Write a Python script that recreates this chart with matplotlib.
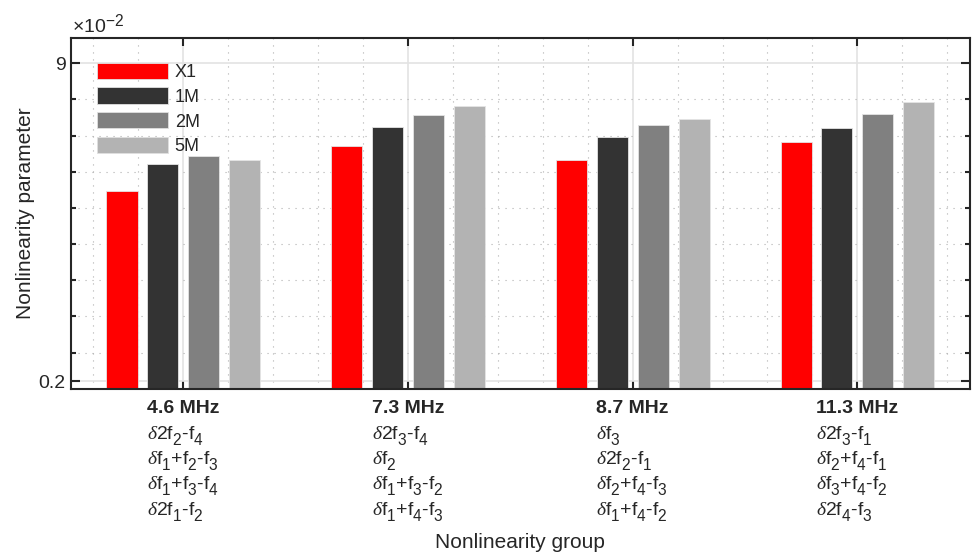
import matplotlib
matplotlib.use("Agg")
import matplotlib.pyplot as plt
import numpy as np
from matplotlib.transforms import blended_transform_factory, ScaledTranslation
from matplotlib.ticker import FixedLocator, MultipleLocator
from matplotlib.patches import Patch

plt.rcParams["font.family"] = ["Liberation Sans", "DejaVu Sans"]
plt.rcParams["mathtext.fontset"] = "custom"
plt.rcParams["mathtext.rm"] = "Liberation Sans"
plt.rcParams["mathtext.it"] = "Liberation Serif:italic"
plt.rcParams["mathtext.bf"] = "Liberation Sans:bold"

# larger, lower-set subscripts for the mixing-product labels
try:
    import matplotlib._mathtext as _mt
    _mt.SHRINK_FACTOR = 0.8
    _mt.FontConstantsBase.sub1 = 0.75
except Exception:
    pass

# ---- data (values in units of 1e-2) ----
groups = ["4.6 MHz", "7.3 MHz", "8.7 MHz", "11.3 MHz"]
components = [
    [r"$\delta$2f$_2$-f$_4$", r"$\delta$f$_1$+f$_2$-f$_3$",
     r"$\delta$f$_1$+f$_3$-f$_4$", r"$\delta$2f$_1$-f$_2$"],
    [r"$\delta$2f$_3$-f$_4$", r"$\delta$f$_2$",
     r"$\delta$f$_1$+f$_3$-f$_2$", r"$\delta$f$_1$+f$_4$-f$_3$"],
    [r"$\delta$f$_3$", r"$\delta$2f$_2$-f$_1$",
     r"$\delta$f$_2$+f$_4$-f$_3$", r"$\delta$f$_1$+f$_4$-f$_2$"],
    [r"$\delta$2f$_3$-f$_1$", r"$\delta$f$_2$+f$_4$-f$_1$",
     r"$\delta$f$_3$+f$_4$-f$_2$", r"$\delta$2f$_4$-f$_3$"],
]
series = ["X1", "1M", "2M", "5M"]
x1_vals = [5.47, 6.71, 6.33, 6.82]
m1_vals = [6.22, 7.24, 6.95, 7.22]
m2_vals = [6.44, 7.57, 7.29, 7.60]
m5_vals = [6.33, 7.81, 7.47, 7.92]
y_ticks = [0.2, 9]
y_tick_labels = ["0.2", "9"]

colors = ["#ff0000", "#333333", "#808080", "#b3b3b3"]
text_color = "#262626"

W, H = 974, 554
fig = plt.figure(figsize=(W / 100, H / 100), dpi=100)
ax_l, ax_r, ax_t, ax_b = 71, 969.7, 38, 388.7
ax = fig.add_axes([ax_l / W, 1 - ax_b / H, (ax_r - ax_l) / W, (ax_b - ax_t) / H])

x = np.arange(1, len(groups) + 1)
step, bar_w = 0.182, 0.138
offsets = (np.arange(len(series)) - (len(series) - 1) / 2) * step
all_vals = [x1_vals, m1_vals, m2_vals, m5_vals]
for vals, off, col in zip(all_vals, offsets, colors):
    ax.bar(x + off, vals, width=bar_w, color=col, edgecolor="#e4e4e4",
           linewidth=0.6, zorder=2)

ax.set_xlim(0.5, 4.5)
ax.set_ylim(0, 9.7)
ax.set_axisbelow(True)

# ticks
ax.xaxis.set_major_locator(FixedLocator(x))
ax.xaxis.set_minor_locator(MultipleLocator(0.2))
ax.yaxis.set_major_locator(FixedLocator(y_ticks))
ax.yaxis.set_minor_locator(FixedLocator(np.arange(1, 9)))
ax.set_yticklabels(y_tick_labels)
ax.tick_params(axis="both", which="both", direction="in", top=True, right=True,
               color=text_color, width=1.5)
ax.tick_params(axis="x", which="major", length=6, labelbottom=False)
ax.tick_params(axis="x", which="minor", length=0)
ax.tick_params(axis="y", which="major", length=6.5, labelsize=14,
               labelcolor=text_color, pad=4)
ax.tick_params(axis="y", which="minor", length=3.5)
for sp in ax.spines.values():
    sp.set_linewidth(1.5)
    sp.set_color(text_color)

# grids
ax.grid(which="major", color="#e3e3e3", linewidth=1.2, linestyle="-")
ax.grid(which="minor", color="#b0b0b0", linewidth=0.8, linestyle=(0, (1, 5.3)))

# legend
handles = [Patch(facecolor=c, edgecolor="#e0e0e0", linewidth=0.6) for c in colors]
ax.legend(handles, series, loc="upper left",
          bbox_to_anchor=(97.3 / W, 1 - 62.6 / H), bbox_transform=fig.transFigure,
          frameon=False, borderpad=0, borderaxespad=0, handlelength=3.93,
          handleheight=0.99, handletextpad=0.36, labelspacing=0.37,
          fontsize=13, labelcolor=text_color)

# exponent marker
fig.text(72 / W, 1 - 32 / H, r"$\times10^{-2}$", fontsize=14, color=text_color,
         ha="left", va="baseline")

# axis labels
fig.text(26 / W, 1 - 213 / H, "Nonlinearity parameter", rotation=90,
         fontsize=15, color=text_color, ha="center", va="center")
fig.text((ax_l + ax_r) / 2 / W, 1 - 548 / H, "Nonlinearity group",
         fontsize=15, color=text_color, ha="center", va="baseline")

# multi-line group labels: bold frequency, then the mixing products
trans = blended_transform_factory(ax.transData, fig.transFigure)
baselines = [413, 439, 464, 489, 515]
label_blocks = []
for xi, g, comps in zip(x, groups, components):
    block = [ax.text(xi, 1 - baselines[0] / H, g, transform=trans, fontsize=14,
                     fontweight="bold", color=text_color, ha="left", va="baseline",
                     clip_on=False)]
    for yb, c in zip(baselines[1:], comps):
        block.append(ax.text(xi, 1 - yb / H, c, transform=trans, fontsize=14,
                             color=text_color, ha="left", va="baseline",
                             clip_on=False))
    label_blocks.append(block)

fig.canvas.draw()
renderer = fig.canvas.get_renderer()
for block in label_blocks:
    wmax = max(t.get_window_extent(renderer).width for t in block)
    shift = ScaledTranslation(-wmax / 2 / fig.dpi, 0, fig.dpi_scale_trans)
    for t in block:
        t.set_transform(trans + shift)

fig.savefig("out.png", dpi=100)
